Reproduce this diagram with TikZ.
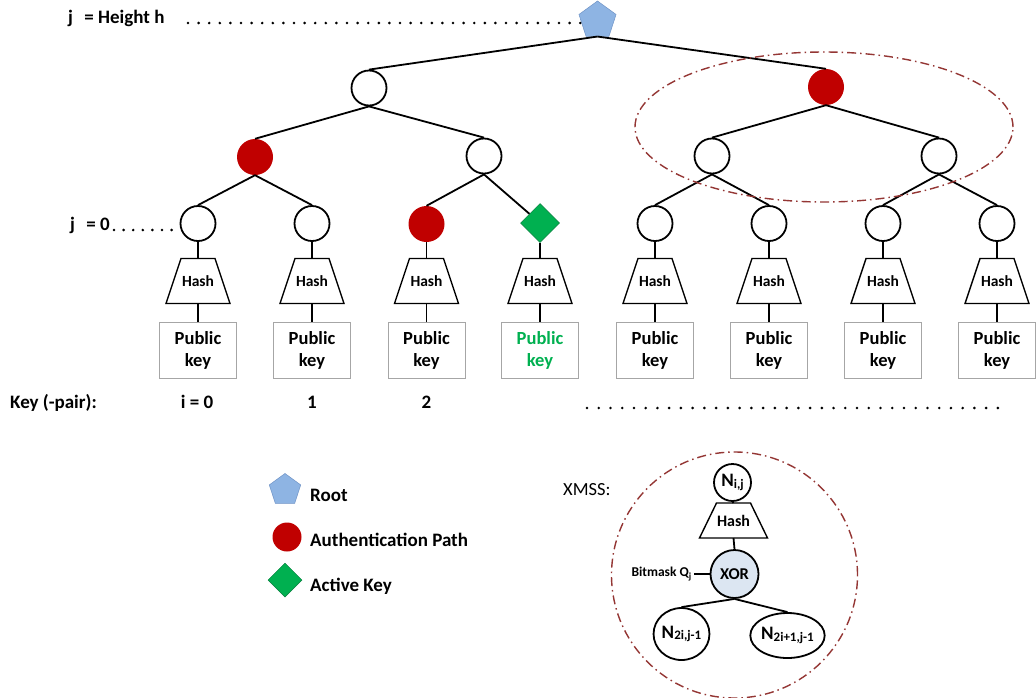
\documentclass[tikz,border=0pt]{standalone}
\usepackage{fontspec}
\setmainfont{Carlito}
\usetikzlibrary{shapes.geometric,calc}
\definecolor{authred}{HTML}{C00000}
\definecolor{actgreen}{HTML}{00B050}
\definecolor{rootblue}{HTML}{8EB4E3}
\definecolor{rootedge}{HTML}{6F93C6}
\definecolor{ringred}{HTML}{943634}
\definecolor{xorfill}{HTML}{DCE6F2}
\definecolor{boxgray}{HTML}{A6A6A6}
% trapezoid "Hash" block: name, x, y, half top, half bottom, half height, font size
\newcommand\hashshape[7]{%
  \draw[line width=1.4pt,fill=white] (#2-#4,#3-#6) -- (#2+#4,#3-#6) -- (#2+#5,#3+#6) -- (#2-#5,#3+#6) -- cycle;
  \node[inner sep=0pt,font=\fontsize{#7}{#7}\selectfont\bfseries] (#1) at (#2,#3) {Hash};
  \coordinate (#1-t) at (#2,#3-#6);
  \coordinate (#1-b) at (#2,#3+#6);
}
\newcommand\Nsub[1]{{\fontsize{19}{20}\selectfont N}\raisebox{-0.35ex}{\fontsize{13}{14}\selectfont #1}}
\begin{document}
\begin{tikzpicture}[x=1pt,y=-1pt,
  edge/.style={line width=1.8pt},
  wnode/.style={circle,draw,line width=1.8pt,minimum size=35pt,inner sep=0pt},
  rnode/.style={circle,fill=authred,minimum size=36pt,inner sep=0pt},
  gnode/.style={diamond,fill=actgreen,draw=actgreen!70!black,line width=0.5pt,minimum size=39pt,inner sep=0pt},
  rootnode/.style={regular polygon,regular polygon sides=5,fill=rootblue,draw=rootedge,line width=0.5pt,minimum size=39pt,inner sep=0pt},
  pkbox/.style={draw=boxgray,line width=0.8pt,minimum width=77pt,minimum height=56pt,align=center,font=\fontsize{18.5}{22}\selectfont\bfseries,inner sep=0pt},
  lbl/.style={font=\fontsize{19}{22}\selectfont\bfseries,inner sep=0pt},
  dots/.style={line width=2.9pt,line cap=round,dash pattern=on 0pt off #1},
  ring/.style={draw=ringred,line width=1.4pt,dash pattern=on 9pt off 4pt on 1.5pt off 4pt},
  xnode/.style={draw,line width=1.8pt,inner sep=0pt,font=\bfseries},
]
\useasboundingbox (0,0) rectangle (1036,697);

% ---------- tree ----------
\node[rootnode] (root) at (597.5,20.5) {};
\node[wnode] (a1) at (369,88) {};
\node[rnode] (a2) at (826,87) {};
\node[rnode] (b1) at (255,157) {};
\node[wnode] (b2) at (484,156) {};
\node[wnode] (b3) at (712,156) {};
\node[wnode] (b4) at (939,156) {};
\node[wnode] (leaf0) at (198,223.5) {};
\node[wnode] (leaf1) at (312,223.5) {};
\node[rnode] (leaf2) at (426.5,224) {};
\node[gnode] (leaf3) at (540,223) {};
\node[wnode] (leaf4) at (655,223.5) {};
\node[wnode] (leaf5) at (769,223.5) {};
\node[wnode] (leaf6) at (883,223.5) {};
\node[wnode] (leaf7) at (997,223.5) {};

\draw[edge] (root.south) -- (a1.north);
\draw[edge] (root.south) -- (a2.north);
\draw[edge] (a1.south) -- (b1.north);
\draw[edge] (a1.south) -- (b2.north);
\draw[edge] (a2.south) -- (b3.north);
\draw[edge] (a2.south) -- (b4.north);
\draw[edge] (b1.south) -- (leaf0.north);
\draw[edge] (b1.south) -- (leaf1.north);
\draw[edge] (b2.south) -- (leaf2.north);
\draw[edge] (b2.south) -- (leaf3);
\draw[edge] (b3.south) -- (leaf4.north);
\draw[edge] (b3.south) -- (leaf5.north);
\draw[edge] (b4.south) -- (leaf6.north);
\draw[edge] (b4.south) -- (leaf7.north);

\foreach \i/\x/\c in {0/198/black,1/312/black,2/426.5/black,3/540/actgreen,4/655/black,5/769/black,6/883/black,7/997/black} {
  \hashshape{h\i}{\x}{281}{17}{32}{22.5}{15.5}
  \node[pkbox,text=\c] (pk\i) at (\x,350) {Public\\key};
  \draw[edge] (leaf\i.south) -- (h\i-t);
  \draw[edge] (h\i-b) -- (pk\i.north);
}

% sub-tree ring
\draw[ring] (824,127) ellipse [x radius=189pt, y radius=75pt];

% ---------- level labels ----------
\node[lbl,anchor=base west] (lh) at (68,23) {j\hspace{0.6em}= Height h};
\coordinate (dh1) at (188,23);
\coordinate (dh2) at (582,23);
\draw[dots=10.6pt] (dh1) -- (dh2);

\node[lbl,anchor=base west] (l0) at (70,230) {j\hspace{0.6em}= 0};
\coordinate (d01) at (114,230);
\coordinate (d02) at (172,230);
\draw[dots=9.6pt] (d01) -- (d02);

\node[lbl,anchor=base west] (lk) at (10,408) {Key (-pair):};
\node[lbl,anchor=base] (k0) at (197,408) {i = 0};
\node[lbl,anchor=base] (k1) at (312,408) {1};
\node[lbl,anchor=base] (k2) at (426.5,408) {2};
\coordinate (dk1) at (587,408);
\coordinate (dk2) at (998,408);
\draw[dots=11.74pt] (dk1) -- (dk2);

% ---------- legend ----------
\node[rootnode,minimum size=33pt] (lgroot) at (285,490) {};
\node[rnode,minimum size=29pt] (lgauth) at (287,537) {};
\node[gnode,minimum size=34pt] (lgact) at (285,580) {};
\node[lbl,anchor=base west] (tgroot) at (310,501) {Root};
\node[lbl,anchor=base west] (tgauth) at (310,546) {Authentication Path};
\node[lbl,anchor=base west] (tgact) at (310,591) {Active Key};

% ---------- XMSS detail ----------
\node[inner sep=0pt,anchor=base west,font=\fontsize{18.5}{21}\selectfont] (xl) at (563,495) {XMSS:};
\draw[ring] (734.5,575) circle [radius=123pt];
\node[xnode,circle,minimum size=37pt] (nij) at (732.5,482.5) {\Nsub{i,j}};
\hashshape{hx}{733.5}{520.5}{17}{34}{17.5}{16}
\node[xnode,circle,fill=xorfill,minimum size=48pt,font=\fontsize{16.5}{18}\selectfont\bfseries] (xor) at (734.5,574) {XOR};
\node[inner sep=0pt,anchor=east,font=\fontsize{13.5}{15}\selectfont\bfseries] (bm) at (692,574) {Bitmask Q\textsubscript{j}};
\node[xnode,ellipse,minimum width=55pt,minimum height=52pt] (nl) at (681.5,634) {\Nsub{2i,j-1}};
\node[xnode,ellipse,minimum width=71pt,minimum height=45pt] (nr) at (787.5,635.5) {\Nsub{2i+1,j-1}};
\draw[edge] (nij.south) -- (hx-t);
\draw[edge] (hx-b) -- (xor.north);
\draw[edge] (xor.west) -- ++(-16,0);
\draw[edge] (xor.south) -- (nl.north);
\draw[edge] (xor.south) -- (nr.north);
\end{tikzpicture}
\end{document}
